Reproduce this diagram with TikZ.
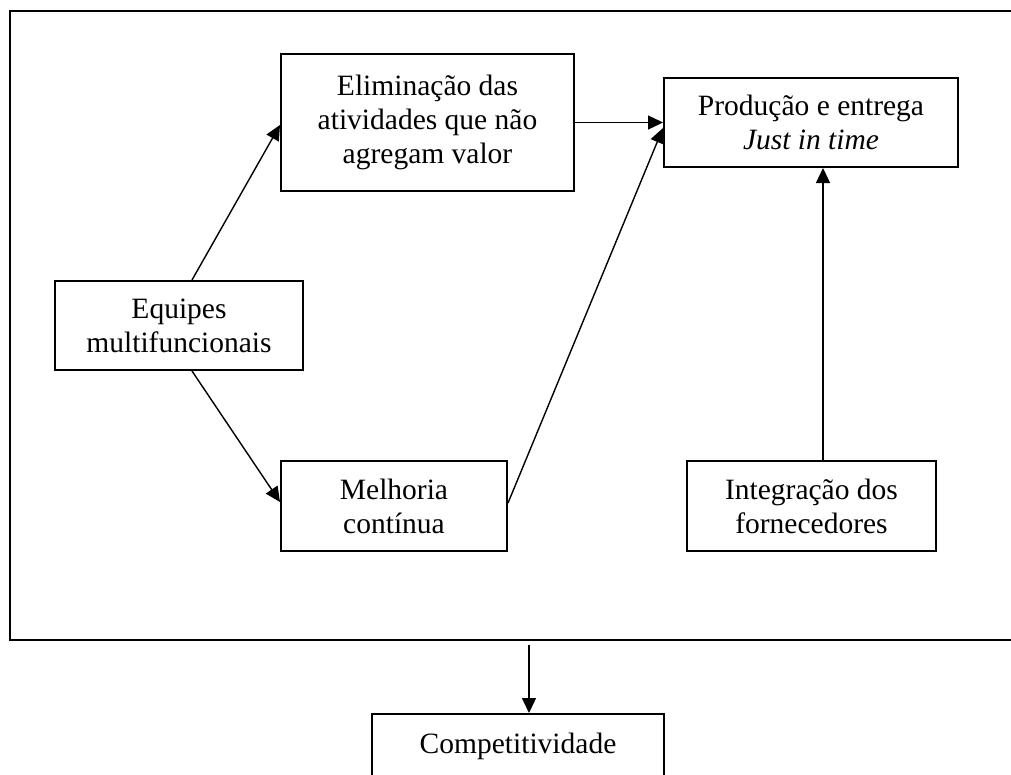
\documentclass[tikz,border=0pt]{standalone}
\usepackage{fontspec}
\setmainfont{Liberation Serif}
\usetikzlibrary{arrows.meta}
\begin{document}
\begin{tikzpicture}[x=1pt,y=-1pt,
  box/.style={draw, line width=2pt, inner sep=0pt, align=center,
    font=\fontsize{29.5}{34}\selectfont},
  arr/.style={line width=1.4pt, -{Triangle[length=15pt,width=14pt]}},
  frame/.style={line width=1.8pt}]
\useasboundingbox (0,0) rectangle (1011,774);
\fill[white] (0,0) rectangle (1011,774);
% outer frame (open at right)
\draw[frame] (1020,11) -- (10,11) -- (10,640) -- (1020,640);
\node[box, minimum width=293pt, minimum height=137pt] (elim) at (427.5,122.5)
  {Eliminação das\\atividades que não\\agregam valor};
\node[box, minimum width=294pt, minimum height=89pt] (prod) at (811,122.5)
  {Produção e entrega\\\textit{Just in time}};
\node[box, minimum width=248pt, minimum height=89pt] (equip) at (179,325.5)
  {Equipes\\multifuncionais};
\node[box, minimum width=226pt, minimum height=90pt] (melh) at (394,506)
  {Melhoria\\contínua};
\node[box, minimum width=249pt, minimum height=90pt] (integ) at (811.5,506)
  {Integração dos\\fornecedores};
\node[box, anchor=north, minimum width=292pt, text height=39pt, text depth=70pt]
  (comp) at (518,713) {Competitividade};
\coordinate (fb) at (529,645);
% connectors
\draw[arr] ([xshift=13pt]equip.north) -- ([yshift=-2.5pt]elim.west);
\draw[arr] ([xshift=13pt]equip.south) -- ([yshift=4pt]melh.west);
\draw[arr] (elim.east) -- (prod.west);
\draw[arr] ([yshift=3pt]melh.east) -- ([yshift=-5.5pt]prod.west);
\draw[arr] ([xshift=11.5pt]integ.north) -- ([xshift=12pt]prod.south);
\draw[arr] (fb) -- (comp.north -| fb);
\end{tikzpicture}
\end{document}
